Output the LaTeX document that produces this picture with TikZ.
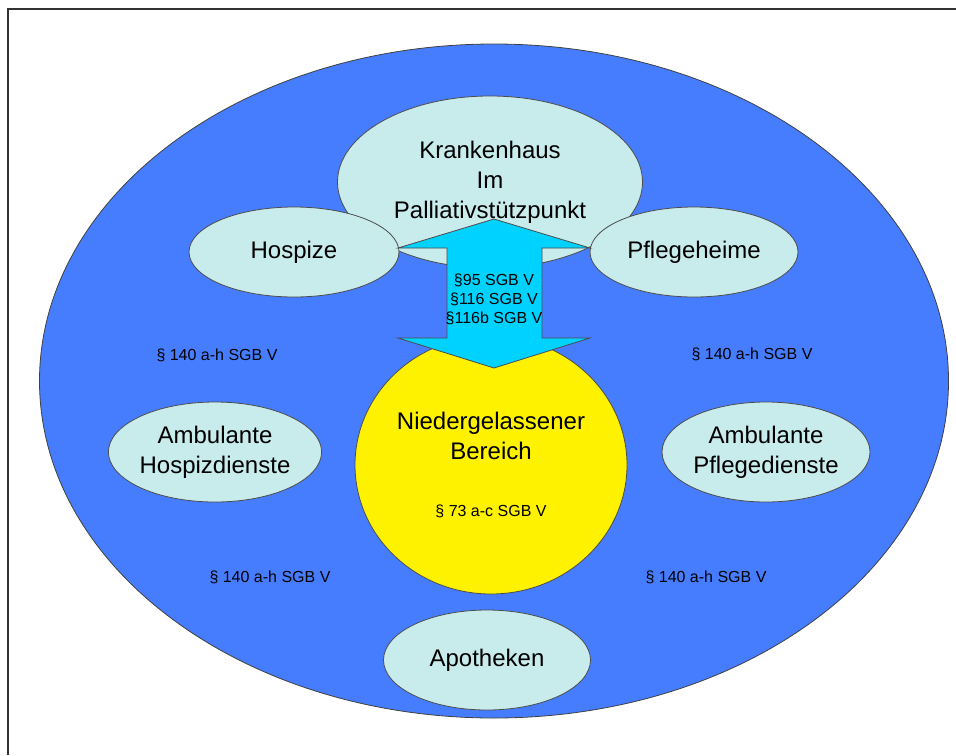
\documentclass[tikz,border=0pt]{standalone}
\usepackage{fontspec}
\setmainfont{Liberation Sans}
\usepackage{xcolor}
\usepackage{tikz}
\usetikzlibrary{shapes.geometric}

\definecolor{netzblau}{RGB}{70,125,255}
\definecolor{hellgruen}{RGB}{200,235,235}
\definecolor{pfeilcyan}{RGB}{0,210,255}

\begin{document}
\begin{tikzpicture}[x=0.5pt, y=-0.5pt]
    % Define the style for the nodes
    \tikzstyle{netz} = [ellipse, draw=black!75, thin, fill=netzblau, inner sep=0pt]
    \tikzstyle{partner} = [ellipse, draw=black!70, thin, fill=hellgruen, inner sep=0pt, align=center, font=\fontsize{12}{15}\selectfont]
    \tikzstyle{paragraf} = [inner sep=0pt, align=center, font=\fontsize{8}{9.5}\selectfont]

    \useasboundingbox (0,0) rectangle (956,755);
    \draw [black!80, line width=0.9pt] (8,755) -- (8,9) -- (956,9);

    % Place the nodes
    \node [netz, minimum width=454.5pt, minimum height=337pt] (versorgung) at (494,381) {};
    \node [partner, minimum width=152.5pt, minimum height=86pt] (krankenhaus) at (490,182) {Krankenhaus\\Im\\Palliativstützpunkt};
    \node [partner, minimum width=105pt, minimum height=45pt] (hospize) at (294,252) {Hospize};
    \node [partner, minimum width=104pt, minimum height=45pt] (pflegeheime) at (694,252) {Pflegeheime};
    \node [partner, fill=yellow, minimum width=136pt, minimum height=129pt] (niedergelassen) at (491,465)
        {Niedergelassener\\Bereich\\[13.5pt]{\fontsize{8}{9.5}\selectfont § 73 a-c SGB V}};
    \node [partner, minimum width=103pt, minimum height=50pt] (ambhospiz) at (215,452) {Ambulante\\Hospizdienste};
    \node [partner, minimum width=104pt, minimum height=50pt] (ambpflege) at (766,452) {Ambulante\\Pflegedienste};
    \node [partner, minimum width=103.5pt, minimum height=50pt] (apotheken) at (487,660) {Apotheken};

    % The double arrow between hospital and practices
    \draw [black!70, thin, fill=pfeilcyan] (494,219) -- (590,248) -- (542,248) -- (542,338) -- (590,338)
        -- (494,368) -- (398,338) -- (447,338) -- (447,248) -- (398,248) -- cycle;
    \node [paragraf] (sektoren) at (494,299) {§95 SGB V\\§116 SGB V\\§116b SGB V};

    % Legal bases
    \node [paragraf] (recht1) at (217,355) {§ 140 a-h SGB V};
    \node [paragraf] (recht2) at (752,354) {§ 140 a-h SGB V};
    \node [paragraf] (recht3) at (270,577) {§ 140 a-h SGB V};
    \node [paragraf] (recht4) at (706,577) {§ 140 a-h SGB V};

\end{tikzpicture}
\end{document}
